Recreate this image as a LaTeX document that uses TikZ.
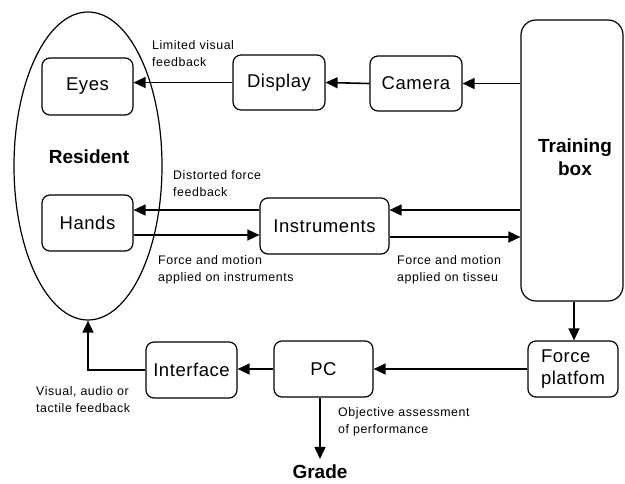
\documentclass[tikz,border=0pt]{standalone}
\usepackage{fontspec}
\setmainfont{Liberation Sans}
\newfontfamily\notefont[LetterSpace=4.5]{Liberation Sans}
\newfontfamily\boxfont[LetterSpace=3]{Liberation Sans}
\usetikzlibrary{arrows.meta,shapes.geometric}
\begin{document}
\begin{tikzpicture}[x=1pt,y=-1pt,
  box/.style={draw, line width=1.2pt, rounded corners=8pt, inner sep=0pt,
    font=\boxfont\fontsize{18.5}{22}\selectfont},
  boldtxt/.style={font=\fontsize{19}{23}\selectfont\bfseries},
  note/.style={anchor=north west, inner sep=0pt, align=left,
    font=\notefont\fontsize{12.4}{17}\selectfont},
  arr/.style={line width=1.6pt, -{Triangle[length=12pt,width=11pt]}}]
\useasboundingbox (0,0) rectangle (625,483);

% the resident and its two sub-blocks
\node[draw, line width=1.2pt, ellipse, minimum width=148pt, minimum height=308pt, inner sep=0pt] (res) at (88,166) {};
\node[boldtxt] (restxt) at (89,157) {Resident};
\node[box, minimum width=91pt, minimum height=57pt] (eyes) at (87.5,86.5) {Eyes};
\node[box, minimum width=91pt, minimum height=56pt] (hands) at (87.5,223) {Hands};

% visual chain
\node[box, minimum width=92pt, minimum height=55pt] (display) at (279,82.5) {Display};
\node[box, minimum width=92pt, minimum height=55pt] (camera) at (416,83.5) {Camera};

% training box
\node[box, rounded corners=15pt, minimum width=102pt, minimum height=281pt] (tb) at (572,160.5) {};
\node[boldtxt, align=center] (tbtxt) at (575,157) {Training\\box};

% instruments
\node[box, minimum width=129pt, minimum height=56pt] (instr) at (324.5,226) {Instruments};

% lower row
\node[box, minimum width=90pt, minimum height=56pt, align=left] (fp) at (573,369) {Force\\platfom};
\node[box, minimum width=99pt, minimum height=56pt] (pc) at (323.5,369) {PC};
\node[box, minimum width=91pt, minimum height=56pt] (iface) at (191.5,370) {Interface};
\node[boldtxt] (grade) at (320,471.5) {Grade};

% connectors
\draw[arr] (tb.west |- camera.east) -- (camera.east);
\draw[arr] (camera.west) -- (display.east);
\draw[arr] (display.west) -- (eyes.east |- display.west);
\draw[arr] ([yshift=16pt]tb.west |- instr.east) -- ([yshift=16pt]instr.east);
\draw[arr] ([yshift=16pt]instr.west) -- ([yshift=16pt]hands.east |- instr.west);
\draw[arr] ([yshift=-12pt]hands.east) -- ([yshift=-12pt]instr.west |- hands.east);
\draw[arr] ([yshift=-11pt]instr.east) -- ([yshift=-11pt]tb.west |- instr.east);
\draw[arr] ([xshift=1pt]fp.north |- tb.south) -- ([xshift=1pt]fp.north);
\draw[arr] (fp.west) -- (pc.east |- fp.west);
\draw[arr] (pc.west) -- (iface.east |- pc.west);
\draw[arr] (iface.west) -| (res.south);
\draw[arr] (grade.north |- pc.south) -- ([yshift=2pt]grade.north);

% connector labels
\node[note] (l1) at (152,40) {Limited visual\\feedback};
\node[note] (l2) at (173,170) {Distorted force\\feedback};
\node[note] (l3) at (158,255) {Force and motion\\applied on instruments};
\node[note] (l4) at (397,255) {Force and motion\\applied on tisseu};
\node[note] (l5) at (36,386) {Visual, audio or\\tactile feedback};
\node[note] (l6) at (338,407) {Objective assessment\\of performance};
\end{tikzpicture}
\end{document}
